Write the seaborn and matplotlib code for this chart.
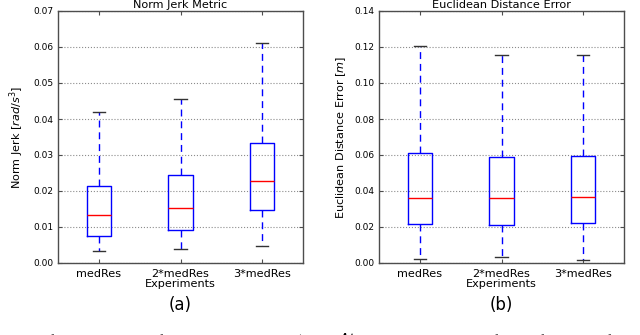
import matplotlib
matplotlib.use("Agg")
import matplotlib.pyplot as plt
import pandas as pd
import seaborn as sns

experiments = ["medRes", "2*medRes", "3*medRes"]

# five-number summaries (low whisker, q1, median, q3, high whisker)
jerk_low = [0.0034, 0.0040, 0.0047]
jerk_q1 = [0.0075, 0.0093, 0.0148]
jerk_med = [0.0134, 0.0154, 0.0228]
jerk_q3 = [0.0214, 0.0244, 0.0334]
jerk_high = [0.0420, 0.0456, 0.0612]

dist_low = [0.0025, 0.0035, 0.0018]
dist_q1 = [0.0215, 0.0210, 0.0220]
dist_med = [0.0363, 0.0363, 0.0366]
dist_q3 = [0.0613, 0.0590, 0.0597]
dist_high = [0.1207, 0.1153, 0.1153]


def to_long(low, q1, med, q3, high):
    rows = []
    for i, name in enumerate(experiments):
        for v in (low[i], q1[i], med[i], q3[i], high[i]):
            rows.append({"experiment": name, "value": v})
    return pd.DataFrame(rows)


jerk_df = to_long(jerk_low, jerk_q1, jerk_med, jerk_q3, jerk_high)
dist_df = to_long(dist_low, dist_q1, dist_med, dist_q3, dist_high)

fig = plt.figure(figsize=(6.4, 3.35), dpi=100)
W, H = 640.0, 335.0
ax1 = fig.add_axes([58 / W, (H - 263) / H, 245 / W, 252 / H])
ax2 = fig.add_axes([379 / W, (H - 263) / H, 245 / W, 252 / H])

FS = 8.1


def draw(ax, df, ymax, title, ylabel, label_x):
    sns.boxplot(data=df, x="experiment", y="value", order=experiments, ax=ax,
                width=0.3, fill=False, whis=(0, 100), color="blue",
                linecolor="blue", linewidth=1,
                boxprops=dict(color="blue"),
                whiskerprops=dict(linestyle=(0, (5, 3.5)), color="blue"),
                medianprops=dict(color="red"),
                capprops=dict(color="0.2"))
    ax.set_ylim(0, ymax)
    ax.set_xlim(-0.5, 2.5)
    ax.yaxis.set_major_formatter(matplotlib.ticker.FormatStrFormatter("%.2f"))
    ax.yaxis.grid(True, linestyle=":", color="0.55", linewidth=0.8)
    ax.set_axisbelow(True)
    ax.tick_params(direction="in", top=True, right=True, length=3,
                   colors="0.3", labelcolor="black")
    ax.tick_params(axis="x", labelsize=FS, pad=4)
    ax.tick_params(axis="y", labelsize=6.5, pad=3)
    for s in ax.spines.values():
        s.set_color("0.3")
        s.set_linewidth(1)
    ax.set_title(title, fontsize=FS, pad=2)
    ax.set_ylabel(ylabel, fontsize=FS)
    ax.yaxis.set_label_coords(label_x, 0.5)
    ax.set_xlabel("Experiments", fontsize=FS, labelpad=0)


draw(ax1, jerk_df, 0.07, "Norm Jerk Metric", r"Norm Jerk $[rad/s^3]$", -0.13)
ax1.set_yticks([0, 0.01, 0.02, 0.03, 0.04, 0.05, 0.06, 0.07])
draw(ax2, dist_df, 0.14, "Euclidean Distance Error",
     r"Euclidean Distance Error $[m]$", -0.127)
ax2.set_yticks([0, 0.02, 0.04, 0.06, 0.08, 0.10, 0.12, 0.14])

fig.text(180 / W, 1 - 305 / H, "(a)", ha="center", va="center", fontsize=12)
fig.text(501 / W, 1 - 305 / H, "(b)", ha="center", va="center", fontsize=12)
fig.text(-0.005, 1 - 331 / H,
         "luation of planned motions for three trials, where |$\\mathcal{A}$| = 3, |$A'$| = 6, "
         "and training is performed for various fixed start points",
         ha="left", va="top", fontsize=10.5, family="Liberation Serif")

fig.savefig("out.png", dpi=100)
